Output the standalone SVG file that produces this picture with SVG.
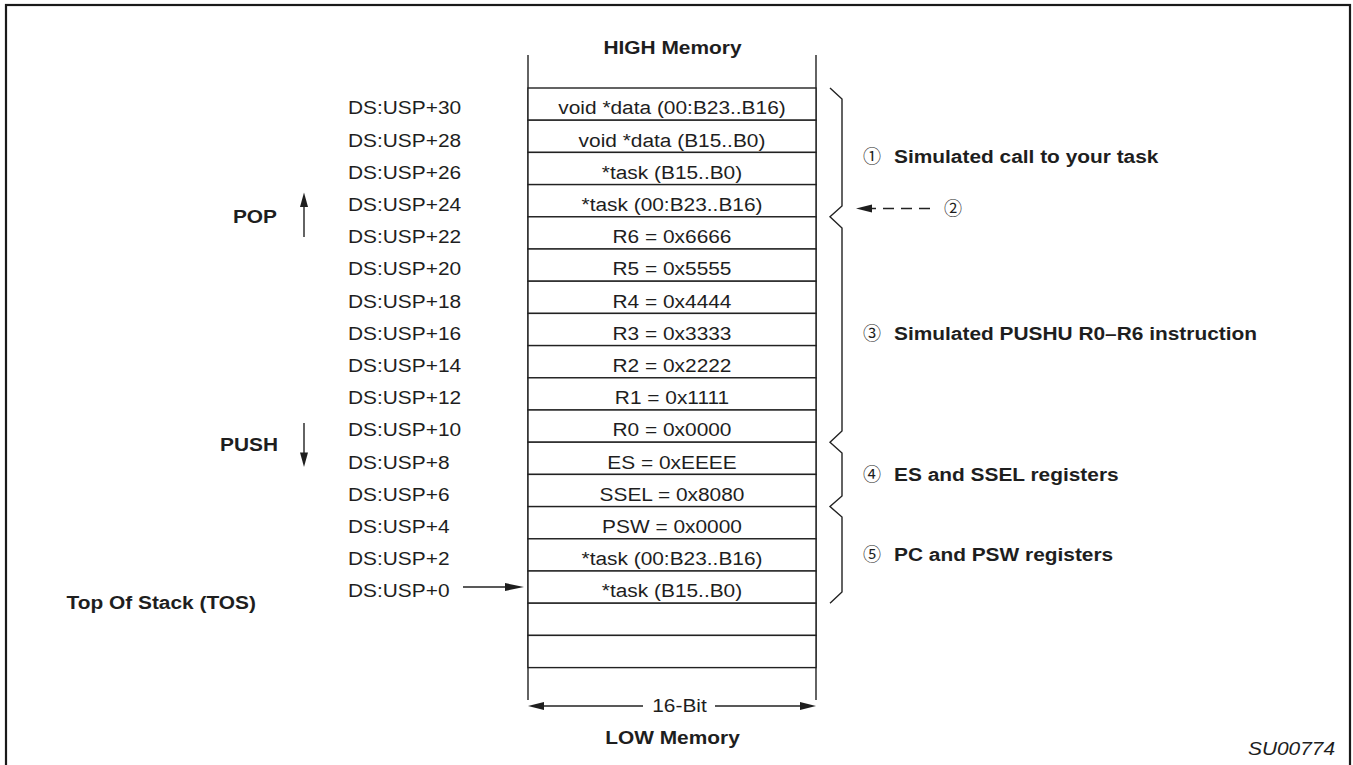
<svg xmlns="http://www.w3.org/2000/svg" width="1353" height="765" viewBox="0 0 1353 765">
<style>
.t{font-family:"Liberation Sans",Arial,Helvetica,sans-serif;font-size:18px;fill:#1e1e1e}
.b{font-weight:bold}
.m{text-anchor:middle}
.e{text-anchor:end}
.c{font-family:"Noto Sans CJK JP","Noto Sans CJK SC","DejaVu Sans",sans-serif;font-size:18px;fill:#1e1e1e}
.cell{fill:#fff;stroke:#222;stroke-width:1.4}
.ln{stroke:#222;stroke-width:1.4;fill:none}
.ah{fill:#1e1e1e}
</style>
<rect x="0" y="0" width="1353" height="765" fill="#fff"/>
<rect x="6" y="5" width="1344" height="765" fill="none" stroke="#1a1a1a" stroke-width="2.2"/>

<g id="stack">
<line class="ln" x1="528" y1="55" x2="528" y2="700"/>
<line class="ln" x1="816" y1="55" x2="816" y2="700"/>
<g id="cell0"><rect class="cell" x="528" y="88" width="288" height="32.2"/><text class="t m" transform="translate(672,114.3) scale(1.16,1)">void *data (00:B23..B16)</text></g>
<g id="cell1"><rect class="cell" x="528" y="120.2" width="288" height="32.2"/><text class="t m" transform="translate(672,146.5) scale(1.16,1)">void *data (B15..B0)</text></g>
<g id="cell2"><rect class="cell" x="528" y="152.4" width="288" height="32.2"/><text class="t m" transform="translate(672,178.7) scale(1.16,1)">*task (B15..B0)</text></g>
<g id="cell3"><rect class="cell" x="528" y="184.6" width="288" height="32.2"/><text class="t m" transform="translate(672,210.9) scale(1.16,1)">*task (00:B23..B16)</text></g>
<g id="cell4"><rect class="cell" x="528" y="216.8" width="288" height="32.2"/><text class="t m" transform="translate(672,243.1) scale(1.16,1)">R6 = 0x6666</text></g>
<g id="cell5"><rect class="cell" x="528" y="249" width="288" height="32.2"/><text class="t m" transform="translate(672,275.3) scale(1.16,1)">R5 = 0x5555</text></g>
<g id="cell6"><rect class="cell" x="528" y="281.2" width="288" height="32.2"/><text class="t m" transform="translate(672,307.5) scale(1.16,1)">R4 = 0x4444</text></g>
<g id="cell7"><rect class="cell" x="528" y="313.4" width="288" height="32.2"/><text class="t m" transform="translate(672,339.7) scale(1.16,1)">R3 = 0x3333</text></g>
<g id="cell8"><rect class="cell" x="528" y="345.6" width="288" height="32.2"/><text class="t m" transform="translate(672,371.9) scale(1.16,1)">R2 = 0x2222</text></g>
<g id="cell9"><rect class="cell" x="528" y="377.8" width="288" height="32.2"/><text class="t m" transform="translate(672,404.1) scale(1.16,1)">R1 = 0x1111</text></g>
<g id="cell10"><rect class="cell" x="528" y="410" width="288" height="32.2"/><text class="t m" transform="translate(672,436.3) scale(1.16,1)">R0 = 0x0000</text></g>
<g id="cell11"><rect class="cell" x="528" y="442.2" width="288" height="32.2"/><text class="t m" transform="translate(672,468.5) scale(1.16,1)">ES = 0xEEEE</text></g>
<g id="cell12"><rect class="cell" x="528" y="474.4" width="288" height="32.2"/><text class="t m" transform="translate(672,500.7) scale(1.16,1)">SSEL = 0x8080</text></g>
<g id="cell13"><rect class="cell" x="528" y="506.6" width="288" height="32.2"/><text class="t m" transform="translate(672,532.9) scale(1.16,1)">PSW = 0x0000</text></g>
<g id="cell14"><rect class="cell" x="528" y="538.8" width="288" height="32.2"/><text class="t m" transform="translate(672,565.1) scale(1.16,1)">*task (00:B23..B16)</text></g>
<g id="cell15"><rect class="cell" x="528" y="571" width="288" height="32.2"/><text class="t m" transform="translate(672,597.3) scale(1.16,1)">*task (B15..B0)</text></g>
<g id="cell16"><rect class="cell" x="528" y="603.2" width="288" height="32.2"/></g>
<g id="cell17"><rect class="cell" x="528" y="635.4" width="288" height="32.2"/></g>
</g>

<g id="titles">
<text class="t b m" transform="translate(672.5,54) scale(1.16,1)">HIGH Memory</text>
<text class="t b m" transform="translate(672.5,744) scale(1.16,1)">LOW Memory</text>
<text class="t m" transform="translate(679.5,712) scale(1.16,1)">16-Bit</text>
<text class="t" font-style="italic" text-anchor="end" font-size="13.5" transform="translate(1335,755) scale(1.16,1)">SU00774</text>
</g>

<g id="addresses">
<text class="t" transform="translate(348,114.3) scale(1.16,1)">DS:USP+30</text>
<text class="t" transform="translate(348,146.5) scale(1.16,1)">DS:USP+28</text>
<text class="t" transform="translate(348,178.7) scale(1.16,1)">DS:USP+26</text>
<text class="t" transform="translate(348,210.9) scale(1.16,1)">DS:USP+24</text>
<text class="t" transform="translate(348,243.1) scale(1.16,1)">DS:USP+22</text>
<text class="t" transform="translate(348,275.3) scale(1.16,1)">DS:USP+20</text>
<text class="t" transform="translate(348,307.5) scale(1.16,1)">DS:USP+18</text>
<text class="t" transform="translate(348,339.7) scale(1.16,1)">DS:USP+16</text>
<text class="t" transform="translate(348,371.9) scale(1.16,1)">DS:USP+14</text>
<text class="t" transform="translate(348,404.1) scale(1.16,1)">DS:USP+12</text>
<text class="t" transform="translate(348,436.3) scale(1.16,1)">DS:USP+10</text>
<text class="t" transform="translate(348,468.5) scale(1.16,1)">DS:USP+8</text>
<text class="t" transform="translate(348,500.7) scale(1.16,1)">DS:USP+6</text>
<text class="t" transform="translate(348,532.9) scale(1.16,1)">DS:USP+4</text>
<text class="t" transform="translate(348,565.1) scale(1.16,1)">DS:USP+2</text>
<text class="t" transform="translate(348,597.3) scale(1.16,1)">DS:USP+0</text>
</g>

<g id="pop"><text class="t b e" transform="translate(277,223) scale(1.16,1)">POP</text></g>
<g id="push"><text class="t b e" transform="translate(278,451) scale(1.16,1)">PUSH</text></g>
<g id="tos"><text class="t b" transform="translate(66.5,609) scale(1.16,1)">Top Of Stack (TOS)</text></g>

<g id="brace">
<polyline class="ln" points="830,88 842,99 842,206 830,216.8 842,228 842,431 830,442.2 842,453 842,496 830,506.6 842,517 842,592 830,603.2"/>
</g>

<g id="note1"><text class="c" x="863" y="163">①</text><text class="t b" transform="translate(894,163) scale(1.16,1)">Simulated call to your task</text></g>
<g id="note2"><text class="c m" x="953" y="215">②</text></g>
<g id="note3"><text class="c" x="863" y="340">③</text><text class="t b" transform="translate(894,340) scale(1.16,1)">Simulated PUSHU R0–R6 instruction</text></g>
<g id="note4"><text class="c" x="863" y="481">④</text><text class="t b" transform="translate(894,481) scale(1.16,1)">ES and SSEL registers</text></g>
<g id="note5"><text class="c" x="863" y="561">⑤</text><text class="t b" transform="translate(894,561) scale(1.16,1)">PC and PSW registers</text></g>

<g id="connectors">
<line class="ln" x1="304" y1="237" x2="304" y2="204"/>
<polygon class="ah" points="304,192.5 300,207 308,207"/>
<line class="ln" x1="304" y1="423" x2="304" y2="455"/>
<polygon class="ah" points="304,467 300,452.5 308,452.5"/>
<line class="ln" x1="463" y1="587" x2="510" y2="587"/>
<polygon class="ah" points="524,587 505,583 505,591"/>
<line class="ln" x1="930" y1="208.5" x2="862" y2="208.5" stroke-dasharray="11 7"/>
<polygon class="ah" points="856,208.5 872,204.5 872,212.5"/>
<line class="ln" x1="538" y1="706" x2="643" y2="706"/>
<polygon class="ah" points="528,706 544,702 544,710"/>
<line class="ln" x1="715" y1="706" x2="806" y2="706"/>
<polygon class="ah" points="816,706 800,702 800,710"/>
</g>
</svg>
